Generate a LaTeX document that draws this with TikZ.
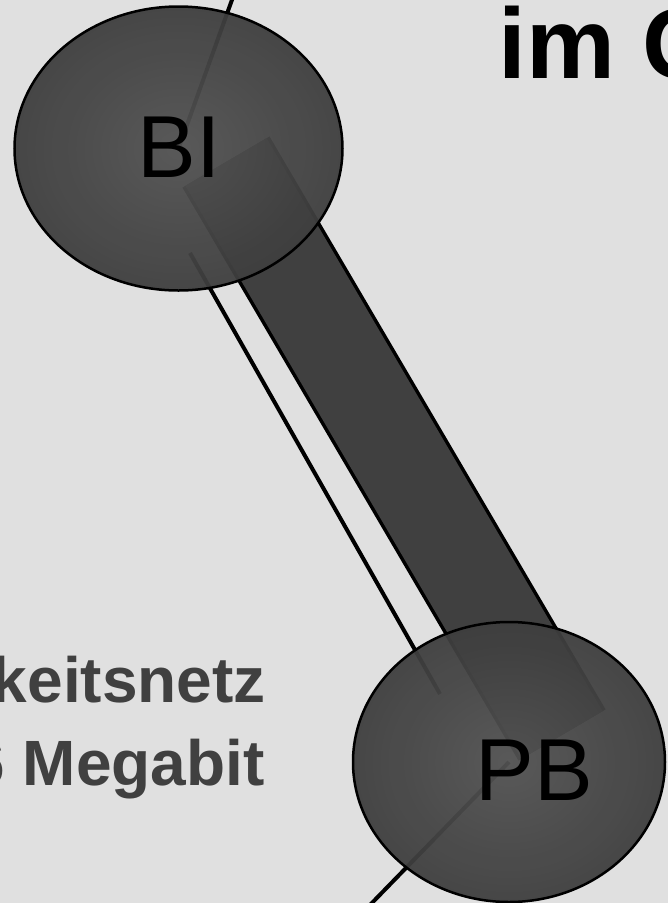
\documentclass[tikz,border=0pt]{standalone}
\usepackage{fontspec}
\setmainfont{Liberation Sans}
\usetikzlibrary{shapes.geometric}
\definecolor{bgcol}{HTML}{E0E0E0}
\definecolor{dark}{HTML}{404040}
\definecolor{ballin}{HTML}{525252}
\definecolor{ballout}{HTML}{3E3E3E}
\tikzset{
  ball/.style={ellipse, draw=black, line width=2.5pt, shading=radial,
    inner color=ballin, outer color=ballout, fill opacity=0.95, inner sep=0pt},
  wire/.style={draw=black, line width=4pt},
  tag/.style={font=\fontsize{88}{100}\selectfont, text=black, inner sep=0pt},
  bigtext/.style={font=\fontsize{100}{120}\selectfont\bfseries, inner sep=0pt, anchor=base west},
  subtext/.style={font=\fontsize{64}{78}\selectfont\bfseries, text=dark, inner sep=0pt, anchor=base east}
}
\begin{document}
\begin{tikzpicture}[x=1pt,y=-1pt]
\fill[bgcol] (0,0) rectangle (668,903);
\useasboundingbox (0,0) rectangle (668,903);
\coordinate (BIc) at (178.5,148.5);
\coordinate (PBc) at (509,762);
\coordinate (top) at (233,-3);
\coordinate (bottom) at (369,906);
\coordinate (l1) at (190,253);
\coordinate (l2) at (440,694);
\coordinate (b1) at (226,162);
\coordinate (b2) at (562,735);
% Leitungen
\draw[wire] (top) -- (BIc);
\draw[wire] (PBc) -- (bottom);
\draw[wire] (l1) -- (l2);
\draw[line width=3.5pt, double=dark, double distance=94pt] (b1) -- (b2);
% Knoten
\node[ball, minimum width=328pt, minimum height=284pt] (BI) at (BIc) {};
\node[ball, minimum width=312pt, minimum height=280pt] (PB) at (PBc) {};
\node[tag] (BItext) at (179,147) {BI};
\node[tag] (PBtext) at (534,770) {PB};
% Text
\node[bigtext] (title) at (498,78) {im G};
\node[subtext] (line1) at (266,702) {keitsnetz};
\node[subtext] (line2) at (265,785) {6 Megabit};
\end{tikzpicture}
\end{document}
